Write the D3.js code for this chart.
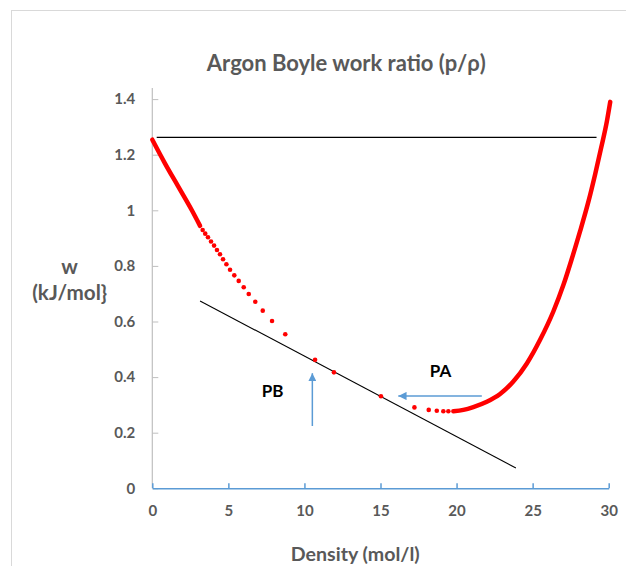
<!DOCTYPE html>
<html>
<head>
<meta charset="utf-8">
<script src="https://cdn.jsdelivr.net/npm/d3@7"></script>
<style>
  html, body { margin: 0; padding: 0; background: #ffffff; }
  svg { display: block; }
  text { font-family: Lato, "Open Sans", sans-serif; font-weight: bold; }
</style>
</head>
<body>
<svg id="chart" width="626" height="566"></svg>
<script>
// ---------- data ----------
const titleText = "Argon Boyle work ratio (p/\u03C1)";
const xAxisTitle = "Density (mol/l)";
const yAxisTitleLines = ["w", "(kJ/mol}"];

const xTickValues = [0, 5, 10, 15, 20, 25, 30];
const xTickLabels = ["0", "5", "10", "15", "20", "25", "30"];
const yTickValues = [0, 0.2, 0.4, 0.6, 0.8, 1.0, 1.2, 1.4];
const yTickLabels = ["0", "0.2", "0.4", "0.6", "0.8", "1", "1.2", "1.4"];

// dense (continuous-looking) low-density branch
const leftCurveX = [0, 0.83, 1.71, 2.59, 3.14];
const leftCurveY = [1.254, 1.169, 1.085, 1.001, 0.944];

// individually visible points
const dotX = [3.31, 3.48, 3.66, 3.86, 4.06, 4.25, 4.45, 4.65, 4.87, 5.11, 5.39, 5.68, 6.01, 6.34, 6.77, 7.26, 7.87, 8.74, 10.70, 11.94, 15.03, 17.23, 18.17, 18.70, 19.13, 19.46];
const dotY = [0.929, 0.916, 0.903, 0.888, 0.873, 0.857, 0.842, 0.824, 0.806, 0.786, 0.766, 0.746, 0.723, 0.699, 0.671, 0.639, 0.602, 0.554, 0.462, 0.417, 0.331, 0.291, 0.282, 0.279, 0.277, 0.277];

// dense high-density branch
const rightCurveX = [19.79, 20.45, 21.10, 21.99, 22.86, 23.73, 24.62, 25.49, 26.36, 27.02, 27.56, 28.12, 28.67, 29.11, 29.50, 29.88, 30.10];
const rightCurveY = [0.277, 0.282, 0.292, 0.311, 0.339, 0.384, 0.449, 0.534, 0.636, 0.731, 0.823, 0.925, 1.032, 1.130, 1.224, 1.320, 1.390];

// straight reference lines
const tangentX = [3.14, 23.9];
const tangentY = [0.674, 0.073];
const levelX = [0.29, 29.2];
const levelY = [1.262, 1.262];

// annotations (data coordinates)
const labelNames = ["PA", "PB"];
const labelX = [18.95, 7.90];
const labelY = [0.421, 0.350];
const arrowFromX = [21.66, 10.52];
const arrowFromY = [0.332, 0.224];
const arrowToX = [16.17, 10.52];
const arrowToY = [0.332, 0.414];

// ---------- layout ----------
const W = 626, H = 566;
const plotLeft = 152.3, plotRight = 608.7, plotBottom = 488.3, plotTop1_4 = 99.1;
const yAxisTopValue = 1.44;
const textGray = "#595959";
const red = "#ff0000";
const blue = "#5b9bd5";

const svg = d3.select("#chart");

const x = d3.scaleLinear().domain([0, 30]).range([plotLeft, plotRight]);
const y = d3.scaleLinear().domain([0, 1.4]).range([plotBottom, plotTop1_4]);

// chart area border
svg.append("rect")
  .attr("x", 11.5).attr("y", 10.5)
  .attr("width", W + 20).attr("height", H + 20)
  .attr("fill", "none").attr("stroke", "#d9d9d9").attr("stroke-width", 1);

function fitWidth(sel, target) {
  const fs = parseFloat(sel.style("font-size"));
  const len = sel.node().getComputedTextLength();
  if (len > 0) sel.style("font-size", (fs * target / len) + "px");
}

// y axis
const yAxisG = svg.append("g").attr("transform", `translate(${plotLeft},0)`)
  .call(d3.axisLeft(y).tickValues(yTickValues)
    .tickFormat((d, i) => yTickLabels[i])
    .tickSize(-6).tickSizeOuter(0).tickPadding(17));
yAxisG.select(".domain").remove();
yAxisG.selectAll(".tick line").attr("stroke", "#bfbfbf").attr("stroke-width", 1);
yAxisG.selectAll(".tick text").attr("fill", textGray).style("font-size", "15px").style("font-family", "Lato, sans-serif");
yAxisG.append("line")
  .attr("x1", 0).attr("x2", 0)
  .attr("y1", y(0)).attr("y2", y(yAxisTopValue))
  .attr("stroke", "#bfbfbf").attr("stroke-width", 1.2);

// x axis
const xAxisG = svg.append("g").attr("transform", `translate(0,${plotBottom})`)
  .call(d3.axisBottom(x).tickValues(xTickValues)
    .tickFormat((d, i) => xTickLabels[i])
    .tickSize(-5).tickSizeOuter(0).tickPadding(17));
xAxisG.select(".domain").attr("stroke", blue).attr("stroke-width", 1.5);
xAxisG.selectAll(".tick line").attr("stroke", blue).attr("stroke-width", 1.5);
xAxisG.selectAll(".tick text").attr("fill", textGray).style("font-size", "15px").style("font-family", "Lato, sans-serif");

// title
const title = svg.append("text").attr("x", 346.3).attr("y", 71)
  .attr("text-anchor", "middle").attr("fill", textGray)
  .style("font-size", "19px").text(titleText);
fitWidth(title, 279);

// x title
const xt = svg.append("text").attr("x", 355.3).attr("y", 561)
  .attr("text-anchor", "middle").attr("fill", textGray)
  .style("font-size", "16px").text(xAxisTitle);
fitWidth(xt, 129);

// y title
const yt1 = svg.append("text").attr("x", 69.5).attr("y", 274)
  .attr("text-anchor", "middle").attr("fill", textGray)
  .style("font-size", "15px").text(yAxisTitleLines[0]);
const yt2 = svg.append("text").attr("x", 69.7).attr("y", 300)
  .attr("text-anchor", "middle").attr("fill", textGray)
  .style("font-size", "15px").text(yAxisTitleLines[1]);
fitWidth(yt2, 75);
yt1.style("font-size", yt2.style("font-size"));

// reference lines
const line = d3.line().x(d => x(d[0])).y(d => y(d[1]));
svg.append("path").datum(d3.zip(levelX, levelY))
  .attr("d", line).attr("fill", "none").attr("stroke", "#000").attr("stroke-width", 1.2);
svg.append("path").datum(d3.zip(tangentX, tangentY))
  .attr("d", line).attr("fill", "none").attr("stroke", "#000").attr("stroke-width", 1.1);

// red data
const curve = d3.line().x(d => x(d[0])).y(d => y(d[1])).curve(d3.curveMonotoneX);
svg.append("path").datum(d3.zip(leftCurveX, leftCurveY))
  .attr("d", curve).attr("fill", "none").attr("stroke", red)
  .attr("stroke-width", 4.5).attr("stroke-linecap", "round");
svg.append("path").datum(d3.zip(rightCurveX, rightCurveY))
  .attr("d", curve).attr("fill", "none").attr("stroke", red)
  .attr("stroke-width", 4.5).attr("stroke-linecap", "round");
svg.append("g").selectAll("circle").data(d3.zip(dotX, dotY)).join("circle")
  .attr("cx", d => x(d[0])).attr("cy", d => y(d[1])).attr("r", 2.3).attr("fill", red);

// arrows
const defs = svg.append("defs");
defs.append("marker").attr("id", "arrowhead")
  .attr("viewBox", "0 0 10 10").attr("refX", 10).attr("refY", 5)
  .attr("markerWidth", 5.5).attr("markerHeight", 5.5).attr("markerUnits", "strokeWidth")
  .attr("orient", "auto")
  .append("path").attr("d", "M0,0 L10,5 L0,10 Z").attr("fill", blue);
svg.append("g").selectAll("line").data(d3.range(arrowFromX.length)).join("line")
  .attr("x1", i => x(arrowFromX[i])).attr("y1", i => y(arrowFromY[i]))
  .attr("x2", i => x(arrowToX[i])).attr("y2", i => y(arrowToY[i]))
  .attr("stroke", blue).attr("stroke-width", 1.5)
  .attr("marker-end", "url(#arrowhead)");

// labels
svg.append("g").selectAll("text").data(d3.range(labelNames.length)).join("text")
  .attr("x", i => x(labelX[i])).attr("y", i => y(labelY[i]))
  .attr("dy", "0.36em")
  .attr("text-anchor", "middle").attr("fill", "#000")
  .style("font-size", "17px").text(i => labelNames[i]);
</script>
</body>
</html>
